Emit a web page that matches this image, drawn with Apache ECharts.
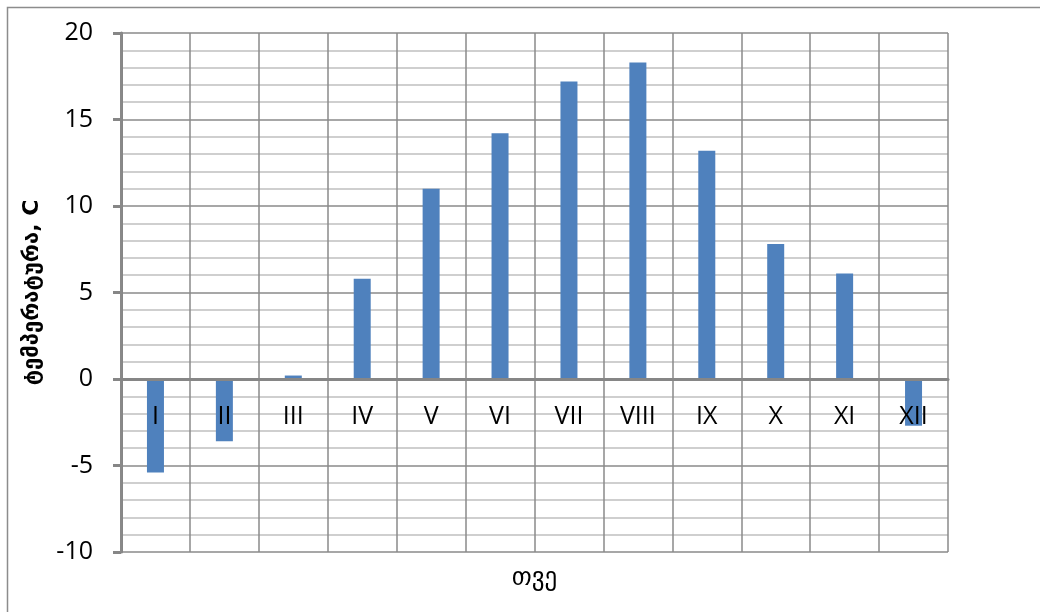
<!DOCTYPE html>
<html>
<head>
<meta charset="utf-8">
<script src="https://cdn.jsdelivr.net/npm/echarts@6/dist/echarts.min.js"></script>
<style>
html,body{margin:0;padding:0;background:#fff;}
#chart{width:1040px;height:612px;}
</style>
</head>
<body>
<div id="chart"></div>
<script>
const categories = ['I','II','III','IV','V','VI','VII','VIII','IX','X','XI','XII'];
const temperatures = [-5.4, -3.6, 0.2, 5.8, 11.0, 14.2, 17.2, 18.3, 13.2, 7.8, 6.1, -2.7];
const yTitle = 'ტემპერატურა, C';
const xTitle = 'თვე';

const chart = echarts.init(document.getElementById('chart'), null, {renderer:'canvas'});
const fontFam = '"Open Sans", "DejaVu Sans", sans-serif';
chart.setOption({
  animation: false,
  backgroundColor: '#fff',
  graphic: [{
    type: 'rect', silent: true,
    shape: {x: 7.5, y: 7.5, width: 1100, height: 700},
    style: {fill: 'none', stroke: '#8c8c8c', lineWidth: 1.5}
  }],
  grid: {left: 121, right: 92, top: 33, bottom: 60, containLabel: false, outerBoundsMode: 'none'},
  xAxis: {
    type: 'category',
    data: categories,
    boundaryGap: true,
    position: 'bottom',
    offset: -173,
    z: 5,
    axisLine: {onZero: false, lineStyle: {color: '#868686', width: 3}},
    axisTick: {show: false},
    splitLine: {show: true, lineStyle: {color: '#8a8a8a', width: 1.5}},
    axisLabel: {color: '#000', fontSize: 25, fontFamily: fontFam, margin: 25},
    name: xTitle,
    nameLocation: 'middle',
    nameGap: 187,
    nameTextStyle: {color: '#000', fontSize: 25, fontFamily: '"DejaVu Sans", sans-serif'}
  },
  yAxis: {
    type: 'value',
    min: -10, max: 20, interval: 5,
    axisLine: {show: true, lineStyle: {color: '#868686', width: 3}},
    axisTick: {show: true, length: 8, lineStyle: {color: '#868686', width: 3}},
    minorTick: {show: false, splitNumber: 5},
    splitLine: {show: true, lineStyle: {color: '#8a8a8a', width: 1.5}},
    minorSplitLine: {show: true, lineStyle: {color: '#c0c0c0', width: 1.5}},
    axisLabel: {color: '#000', fontSize: 25, fontFamily: fontFam, margin: 28},
    name: yTitle,
    nameLocation: 'middle',
    nameGap: 78,
    nameTextStyle: {color: '#000', fontSize: 22, fontWeight: 'bold', fontFamily: '"DejaVu Sans", sans-serif'}
  },
  series: [{
    type: 'bar',
    data: temperatures,
    barWidth: 17,
    z: 2,
    itemStyle: {color: '#4f81bd'}
  }]
});
</script>
</body>
</html>
